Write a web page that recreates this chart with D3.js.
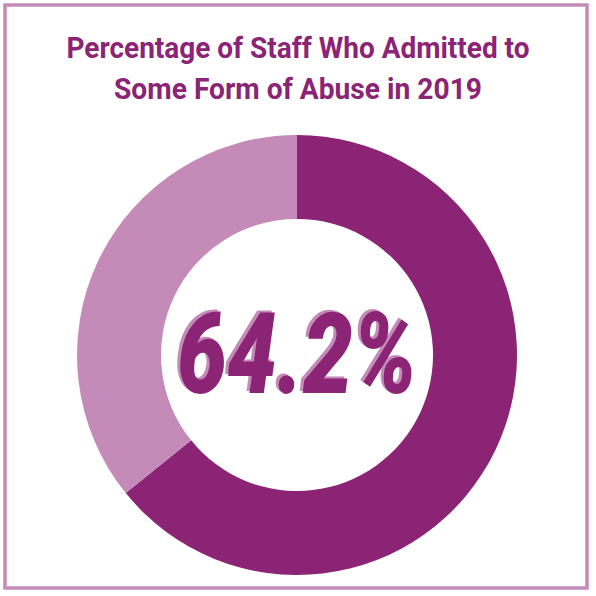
<!DOCTYPE html>
<html>
<head>
<script src="https://cdn.jsdelivr.net/npm/d3@7"></script>
<style>body{margin:0;background:#fff}</style>
</head>
<body>
<svg width="596" height="596"></svg>
<script>
const titleLines = ["Percentage of Staff Who Admitted to", "Some Form of Abuse in 2019"];
const labels = ["Admitted", "Did not admit"];
const values = [64.2, 35.8];
const colors = ["#8b2474", "#c48bb9"];

const svg = d3.select("svg");
svg.append("rect").attr("x", 5).attr("y", 5).attr("width", 582).attr("height", 583)
  .attr("fill", "none").attr("stroke", "#c48bb9").attr("stroke-width", 3.5);

const titleLen = [463, 368];
svg.selectAll("text.title").data(titleLines).join("text")
  .attr("class", "title")
  .attr("x", 298).attr("y", (d, i) => 58 + i * 41)
  .attr("text-anchor", "middle")
  .attr("textLength", (d, i) => titleLen[i]).attr("lengthAdjust", "spacingAndGlyphs")
  .style("font-family", "Roboto").style("font-weight", "bold").style("font-size", "30px")
  .attr("fill", "#8b2474").text(d => d);

const g = svg.append("g").attr("transform", "translate(297,355)");
const pie = d3.pie().sort(null)(values);
const arc = d3.arc().innerRadius(136).outerRadius(220);
g.selectAll("path").data(pie).join("path")
  .attr("d", arc).attr("fill", (d, i) => colors[i]);

const label = values[0].toFixed(1) + "%";
[["#c48bb9", -3, -2], ["#8b2474", 0, 0]].forEach(([c, dx, dy]) => {
  g.append("text")
    .attr("x", dx).attr("y", 38 + dy)
    .attr("text-anchor", "middle")
    .attr("textLength", 240).attr("lengthAdjust", "spacingAndGlyphs")
    .style("font-family", "Roboto").style("font-weight", "900").style("font-style", "italic")
    .style("font-size", "112px")
    .attr("fill", c).text(label);
});
</script>
</body>
</html>
